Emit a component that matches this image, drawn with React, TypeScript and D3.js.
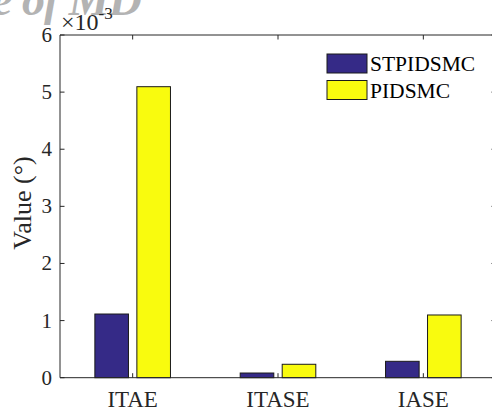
import { scaleBand, scaleLinear } from 'd3'

const categories = ['ITAE', 'ITASE', 'IASE']
const seriesNames = ['STPIDSMC', 'PIDSMC']
const stpidsmc = [1.115, 0.082, 0.287]
const pidsmc = [5.095, 0.235, 1.098]
const yTicks = [0, 1, 2, 3, 4, 5, 6]

const width = 492
const height = 412
const left = 60
const right = 496
const top = 35
const bottom = 377.7
const colors = ['#352a87', '#f9fb0e']
const ink = '#262626'
const font = '"Liberation Serif", "Times New Roman", serif'

const x = scaleBand().domain(categories).range([left, right]).padding(0)
const inner = scaleBand().domain(seriesNames).range([-42, 42]).paddingInner(0.2).paddingOuter(0.1)
const y = scaleLinear().domain([0, 6]).range([bottom, top])

const App = () => {
  const series = [stpidsmc, pidsmc]
  const tk = 4.5
  return (
    <div style={{ position: 'fixed', left: 0, top: 0 }}>
      <svg width={width} height={height} style={{ display: 'block', background: '#fff' }}>
        {/* cut-off title from the figure above */}
        <text x={-8} y={15} fontFamily={font} fontSize={46} fontWeight="bold" fontStyle="italic" fill="#b3b3b3" letterSpacing={-1}>
          e of MD
        </text>

        {/* bars */}
        {series.map((vals, si) =>
          vals.map((v, i) => (
            <rect
              key={si + '-' + i}
              x={x(categories[i])! + x.bandwidth() / 2 + inner(seriesNames[si])!}
              y={y(v)}
              width={inner.bandwidth()}
              height={y(0) - y(v)}
              fill={colors[si]}
              stroke="#1a1a1a"
              strokeWidth={1}
            />
          ))
        )}

        {/* axes box */}
        <g stroke={ink} strokeWidth={1} fill="none">
          <line x1={left} x2={right} y1={bottom} y2={bottom} />
          <line x1={left} x2={right} y1={top} y2={top} />
          <line x1={left} x2={left} y1={top} y2={bottom} />
          <line x1={right} x2={right} y1={top} y2={bottom} />
          {yTicks.map(t => (
            <g key={t}>
              <line x1={left} x2={left + tk} y1={y(t)} y2={y(t)} />
              <line x1={right} x2={right - tk} y1={y(t)} y2={y(t)} />
            </g>
          ))}
          {categories.map(c => {
            const cx = x(c)! + x.bandwidth() / 2
            return (
              <g key={c}>
                <line x1={cx} x2={cx} y1={bottom} y2={bottom - tk} />
                <line x1={cx} x2={cx} y1={top} y2={top + tk} />
              </g>
            )
          })}
        </g>

        {/* y tick labels */}
        {yTicks.map(t => (
          <text key={t} x={left - 8} y={y(t) + 7} textAnchor="end" fontFamily={font} fontSize={21} fill={ink}>
            {t}
          </text>
        ))}

        {/* x tick labels */}
        {categories.map(c => (
          <text
            key={c}
            x={x(c)! + x.bandwidth() / 2}
            y={407}
            textAnchor="middle"
            fontFamily={font}
            fontSize={23}
            fill={ink}
          >
            {c}
          </text>
        ))}

        {/* exponent */}
        <text x={61} y={30} fontFamily={font} fontSize={24} fill={ink}>
          ×10
          <tspan dy={-11} fontSize={17}>-3</tspan>
        </text>

        {/* y label */}
        <text
          transform={`translate(31,203) rotate(-90)`}
          textAnchor="middle"
          fontFamily={font}
          fontSize={26}
          fill={ink}
        >
          Value (°)
        </text>

        {/* legend */}
        {seriesNames.map((s, i) => (
          <g key={s}>
            <rect x={327} y={54 + i * 26.5} width={40} height={19} fill={colors[i]} stroke="#1a1a1a" strokeWidth={1} />
            <text x={370} y={71 + i * 27} fontFamily={font} fontSize={21.5} fill="#000">
              {s}
            </text>
          </g>
        ))}
      </svg>
    </div>
  )
}

export default App
